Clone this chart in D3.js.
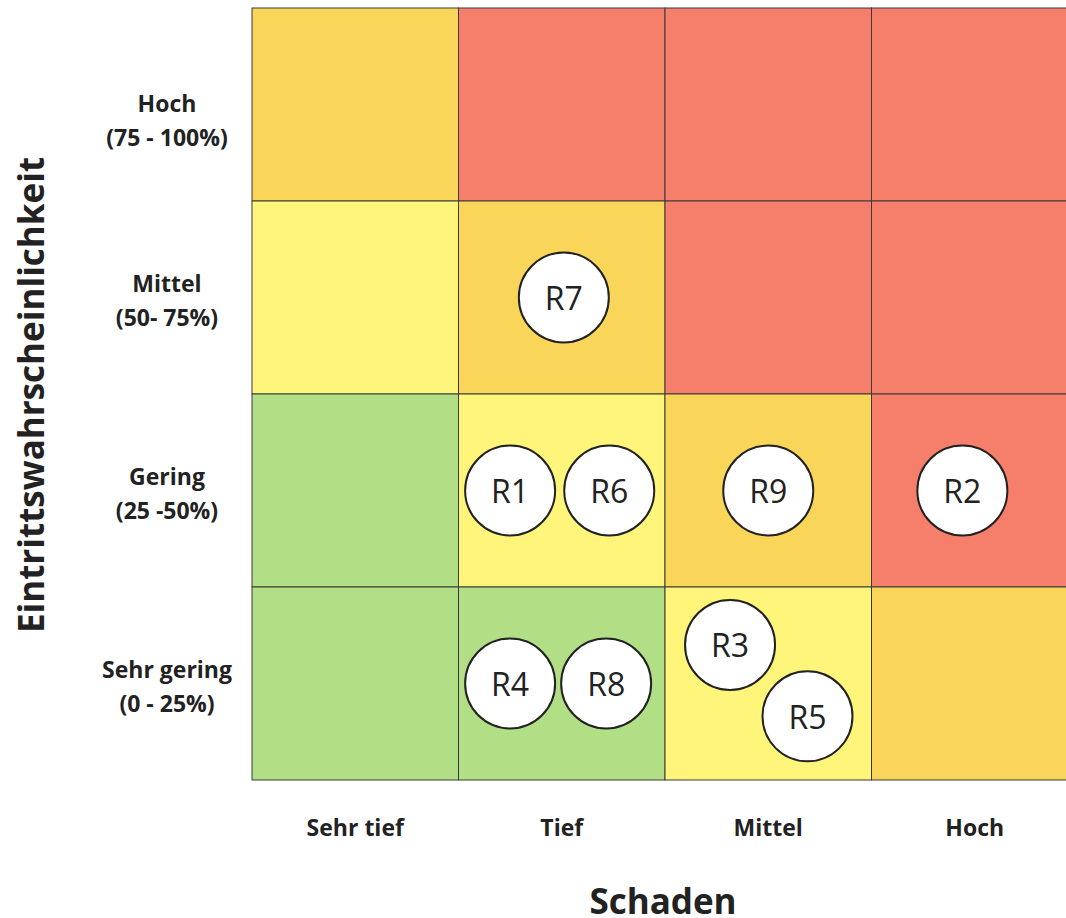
<!DOCTYPE html>
<html>
<head>
<meta charset="utf-8">
<script src="https://cdn.jsdelivr.net/npm/d3@7"></script>
<style>
  body { margin: 0; background: #fff; }
  svg { display: block; font-family: "Open Sans", sans-serif; }
</style>
</head>
<body>
<div id="chart"></div>
<script>
// Schaden (x) categories and Eintrittswahrscheinlichkeit (y) categories, top to bottom
const impacts = ["Sehr tief", "Tief", "Mittel", "Hoch"];
const probs = ["Hoch", "Mittel", "Gering", "Sehr gering"];
const probRanges = ["(75 - 100%)", "(50- 75%)", "(25 -50%)", "(0 - 25%)"];

// risk level per cell, rows = probs, cols = impacts
const levels = [
  ["mid", "high", "high", "high"],
  ["low", "mid", "high", "high"],
  ["none", "low", "mid", "high"],
  ["none", "none", "low", "mid"]
];

// risks: which cell, and where inside the cell (fraction of cell width/height)
const riskIds = ["R1", "R2", "R3", "R4", "R5", "R6", "R7", "R8", "R9"];
const riskImpact = ["Tief", "Hoch", "Mittel", "Tief", "Mittel", "Tief", "Tief", "Tief", "Mittel"];
const riskProb = ["Gering", "Gering", "Sehr gering", "Sehr gering", "Sehr gering", "Gering", "Mittel", "Sehr gering", "Gering"];
const riskFx = [0.25, 0.44, 0.315, 0.25, 0.69, 0.73, 0.51, 0.715, 0.5];
const riskFy = [0.5, 0.5, 0.3, 0.5, 0.67, 0.5, 0.5, 0.5, 0.5];

const width = 1066;
const height = 918;
const grid = { left: 252, top: 8, cellW: 206.5, cellH: 193 };

const colors = {
  none: "#b2df85",
  low: "#fff57a",
  mid: "#f9d65a",
  high: "#f67f6b"
};

const x = d3.scaleBand()
  .domain(impacts)
  .range([grid.left, grid.left + grid.cellW * impacts.length]);

const y = d3.scaleBand()
  .domain(probs)
  .range([grid.top, grid.top + grid.cellH * probs.length]);

const svg = d3.select("#chart")
  .append("svg")
  .attr("width", width)
  .attr("height", height);

// cells
const cells = [];
probs.forEach((p, i) => impacts.forEach((c, j) => cells.push({ p, c, level: levels[i][j] })));

svg.append("g")
  .selectAll("rect")
  .data(cells)
  .enter()
  .append("rect")
  .attr("x", d => x(d.c))
  .attr("y", d => y(d.p))
  .attr("width", x.bandwidth())
  .attr("height", y.bandwidth())
  .attr("fill", d => colors[d.level])
  .attr("stroke", "#3a3a3a")
  .attr("stroke-width", 1);

// x labels
svg.append("g")
  .selectAll("text")
  .data(impacts)
  .enter()
  .append("text")
  .attr("x", d => x(d) + x.bandwidth() / 2)
  .attr("y", 827)
  .attr("text-anchor", "middle")
  .attr("dominant-baseline", "central")
  .style("font-size", "23px")
  .style("font-weight", "700")
  .style("fill", "#222")
  .text(d => d);

// y labels (two lines)
const yLab = svg.append("g")
  .selectAll("text")
  .data(probs)
  .enter()
  .append("text")
  .attr("text-anchor", "middle")
  .style("font-size", "23px")
  .style("font-weight", "700")
  .style("fill", "#222");

yLab.each(function (d, i) {
  const cy = y(d) + y.bandwidth() / 2 + (i === 0 ? 15 : 2);
  const t = d3.select(this);
  t.append("tspan")
    .attr("x", 167)
    .attr("y", cy - 17)
    .attr("dominant-baseline", "central")
    .text(d);
  t.append("tspan")
    .attr("x", 167)
    .attr("y", cy + 17)
    .attr("dominant-baseline", "central")
    .text(probRanges[i]);
});

// axis titles
svg.append("text")
  .attr("x", 663)
  .attr("y", 900)
  .attr("text-anchor", "middle")
  .attr("dominant-baseline", "central")
  .style("font-size", "35px")
  .style("font-weight", "700")
  .style("fill", "#222")
  .text("Schaden");

svg.append("text")
  .attr("transform", "translate(30, 395) rotate(-90)")
  .attr("text-anchor", "middle")
  .attr("dominant-baseline", "central")
  .style("font-size", "35px")
  .style("font-weight", "700")
  .style("fill", "#222")
  .text("Eintrittswahrscheinlichkeit");

// risk bubbles
const risks = riskIds.map((id, i) => ({
  id,
  cx: x(riskImpact[i]) + riskFx[i] * x.bandwidth(),
  cy: y(riskProb[i]) + riskFy[i] * y.bandwidth()
}));

const bubble = svg.append("g")
  .selectAll("g")
  .data(risks)
  .enter()
  .append("g")
  .attr("transform", d => `translate(${d.cx}, ${d.cy})`);

bubble.append("circle")
  .attr("r", 45)
  .attr("fill", "#fff")
  .attr("stroke", "#222")
  .attr("stroke-width", 2);

bubble.append("text")
  .attr("text-anchor", "middle")
  .attr("dominant-baseline", "central")
  .style("font-size", "32px")
  .style("fill", "#222")
  .text(d => d.id);
</script>
</body>
</html>
